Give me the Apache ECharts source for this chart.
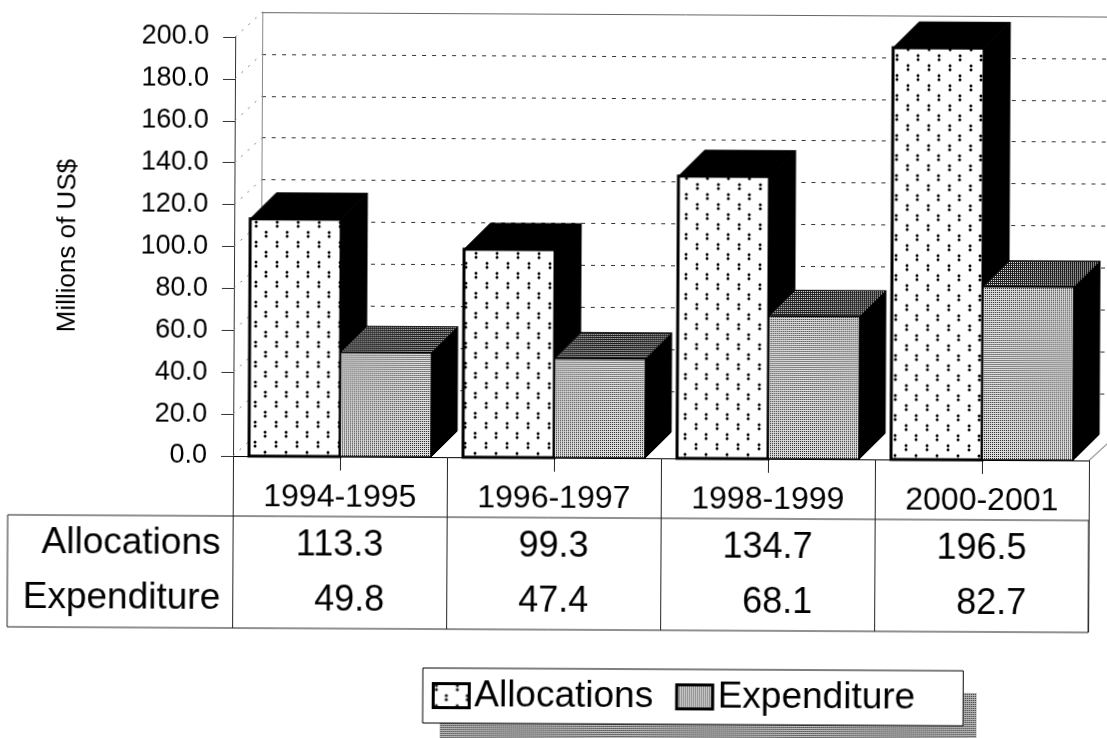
<!DOCTYPE html>
<html>
<head>
<meta charset="utf-8">
<title>Allocations and Expenditure</title>
<script src="https://cdn.jsdelivr.net/npm/echarts@6/dist/echarts.min.js"></script>
<style>
  html, body { margin: 0; padding: 0; background: #fff; overflow: hidden; }
  /* the source is a slightly crooked scan */
  #chart { width: 1107px; height: 738px; transform-origin: 233px 456px; transform: rotate(0.3deg); }
</style>
</head>
<body>
<div id="chart"></div>
<script>
const periods = ["1994-1995", "1996-1997", "1998-1999", "2000-2001"];
const allocations = [113.3, 99.3, 134.7, 196.5];
const expenditure = [49.8, 47.4, 68.1, 82.7];
const allocationLabels = ["113.3", "99.3", "134.7", "196.5"];
const expenditureLabels = ["  49.8", "47.4", "  68.1", "  82.7"];
const yTicks = [0, 20, 40, 60, 80, 100, 120, 140, 160, 180, 200];

const FONT = '"Liberation Sans", Arial, sans-serif';
const WALL_X = 27, WALL_Y = 25; // offset of the back wall
const DEPTH = 26; // depth of the boxes
const BAR_SHARE = 91 / 214;

function makeTile(w, h, draw) {
  const c = document.createElement("canvas");
  c.width = w;
  c.height = h;
  const ctx = c.getContext("2d");
  ctx.fillStyle = "#fff";
  ctx.fillRect(0, 0, w, h);
  draw(ctx);
  return { image: c, repeat: "repeat" };
}

// paired dots, staggered from column to column
const dots = makeTile(21, 20, function (ctx) {
  ctx.fillStyle = "#000";
  [[3, 2], [3, 6], [13, 12], [13, 16]].forEach(function (p) {
    ctx.beginPath();
    ctx.arc(p[0], p[1], 1.5, 0, Math.PI * 2);
    ctx.fill();
  });
});

// one odd pixel in every 2x2 cell, like the halftone of the scan
function stipple(base, odd) {
  return makeTile(2, 2, function (ctx) {
    ctx.fillStyle = base;
    ctx.fillRect(0, 0, 2, 2);
    ctx.fillStyle = odd;
    ctx.fillRect(0, 0, 1, 1);
  });
}
const grey = stipple("#dedede", "#1c1c1c");
const darkGrey = stipple("#1c1c1c", "#f0f0f0");
const shadowGrey = stipple("#bdbdbd", "#111");

// one 3D box per category
function boxRenderer(side, frontFill, topFill, frontLine) {
  return function (params, api) {
    const i = api.value(0);
    const top = api.coord([i, api.value(1)]);
    const base = api.coord([i, 0]);
    const w = api.size([1, 0])[0] * BAR_SHARE;
    const x0 = top[0] + (side === 0 ? -w : 0);
    const x1 = x0 + w;
    return {
      type: "group",
      children: [
        {
          type: "polygon",
          shape: { points: [[x1, top[1]], [x1 + DEPTH, top[1] - DEPTH], [x1 + DEPTH, base[1] - DEPTH], [x1, base[1]]] },
          style: { fill: "#000", stroke: "#000", lineWidth: 1 },
        },
        {
          type: "polygon",
          shape: { points: [[x0, top[1]], [x0 + DEPTH, top[1] - DEPTH], [x1 + DEPTH, top[1] - DEPTH], [x1, top[1]]] },
          style: { fill: topFill, stroke: "#000", lineWidth: 1 },
        },
        {
          type: "rect",
          shape: { x: x0, y: top[1], width: w, height: base[1] - top[1] },
          style: { fill: frontFill, stroke: "#000", lineWidth: frontLine },
        },
      ],
    };
  };
}

// faint diagonals joining the axis to the back wall, and the floor edge on the right
function wallRenderer(params, api) {
  const p = api.coord([0, api.value(0)]);
  const x = p[0] - api.size([1, 0])[0] / 2;
  return {
    type: "line",
    shape: { x1: x, y1: p[1], x2: x + WALL_X, y2: p[1] - WALL_Y },
    style: { stroke: "#777", lineWidth: 1, lineDash: [2, 7] },
  };
}
function floorRenderer(params, api) {
  const p = api.coord([api.value(0), 0]);
  const x = p[0] + api.size([1, 0])[0] / 2;
  return {
    type: "line",
    shape: { x1: x, y1: p[1], x2: x + WALL_X, y2: p[1] - WALL_Y },
    style: { stroke: "#555", lineWidth: 1 },
  };
}

const myChart = echarts.init(document.getElementById("chart"), null, { renderer: "canvas" });

const options = {
  animation: false,
  backgroundColor: "#fff",
  textStyle: { fontFamily: FONT, color: "#000" },
  grid: [
    { left: 233, top: 37, width: 856, height: 419 },
    { left: 260, top: 12, width: 860, height: 419 },
  ],
  legend: {
    data: ["Allocations", "Expenditure"],
    icon: "rect",
    left: 424,
    top: 667,
    padding: [9, 48, 9, 9],
    itemGap: 22,
    itemWidth: 36,
    itemHeight: 24,
    z: 10,
    backgroundColor: "#fff",
    borderColor: "#000",
    borderWidth: 1,
    textStyle: { fontSize: 37, fontFamily: FONT, color: "#000" },
    itemStyle: { borderColor: "#000", borderWidth: 3 },
  },
  xAxis: [
    {
      type: "category",
      gridIndex: 0,
      position: "bottom",
      data: periods,
      axisLine: { lineStyle: { color: "#000", width: 1 } },
      axisTick: { show: true, length: 172, lineStyle: { color: "#222", width: 1 } },
      axisLabel: { interval: 0, margin: 25, fontSize: 32, fontFamily: FONT, color: "#000" },
    },
    {
      type: "category",
      gridIndex: 0,
      position: "bottom",
      data: periods,
      axisLine: { show: false },
      axisTick: { show: true, alignWithLabel: true, length: 14, lineStyle: { color: "#222", width: 1 } },
      axisLabel: { show: false },
    },
    {
      type: "category",
      gridIndex: 0,
      position: "bottom",
      offset: 71,
      data: allocationLabels,
      axisLine: { show: false },
      axisTick: { show: false },
      axisLabel: { interval: 0, margin: 0, fontSize: 36, fontFamily: FONT, color: "#000" },
    },
    {
      type: "category",
      gridIndex: 0,
      position: "bottom",
      offset: 126,
      data: expenditureLabels,
      axisLine: { show: false },
      axisTick: { show: false },
      axisLabel: { interval: 0, margin: 0, fontSize: 36, fontFamily: FONT, color: "#000" },
    },
    {
      type: "category",
      gridIndex: 1,
      position: "top",
      data: periods,
      axisLine: { onZero: false, lineStyle: { color: "#666", width: 1 } },
      axisTick: { show: false },
      axisLabel: { show: false },
    },
  ],
  yAxis: [
    {
      type: "value",
      gridIndex: 0,
      min: 0,
      max: 200,
      interval: 20,
      name: "Millions of US$",
      nameLocation: "middle",
      nameGap: 153,
      nameTextStyle: { fontSize: 26, fontFamily: FONT, color: "#000" },
      axisLine: { show: true, lineStyle: { color: "#333", width: 1 } },
      axisTick: { show: true, length: 12, lineStyle: { color: "#333", width: 1 } },
      axisLabel: {
        margin: 26,
        fontSize: 27,
        fontFamily: FONT,
        color: "#000",
        formatter: function (v) { return v.toFixed(1); },
      },
      splitLine: { show: false },
    },
    {
      type: "value",
      gridIndex: 1,
      min: 0,
      max: 200,
      interval: 20,
      axisLine: { show: true, lineStyle: { color: "#888", width: 1 } },
      axisTick: { show: false },
      axisLabel: { show: false },
      splitLine: {
        show: true,
        showMinLine: false,
        showMaxLine: false,
        lineStyle: { color: "#333", width: 1, type: [4, 6] },
      },
    },
  ],
  graphic: [
    {
      type: "rect",
      z: 1,
      shape: { x: 8, y: 516, width: 1081, height: 112 },
      style: { fill: "none", stroke: "#222", lineWidth: 1 },
    },
    {
      type: "rect",
      z: 1,
      shape: { x: 441, y: 689, width: 537, height: 60 },
      style: { fill: shadowGrey },
    },
    {
      type: "text",
      z: 2,
      style: { text: "Allocations", x: 221, y: 544, align: "right", verticalAlign: "middle", font: "37px " + FONT, fill: "#000" },
    },
    {
      type: "text",
      z: 2,
      style: { text: "Expenditure", x: 221, y: 599, align: "right", verticalAlign: "middle", font: "37px " + FONT, fill: "#000" },
    },
  ],
  series: [
    {
      name: "wall",
      type: "custom",
      xAxisIndex: 0,
      yAxisIndex: 0,
      z: 1,
      silent: true,
      data: yTicks,
      encode: { x: -1, y: 0 },
      renderItem: wallRenderer,
    },
    {
      name: "floor",
      type: "custom",
      xAxisIndex: 0,
      yAxisIndex: 0,
      z: 1,
      silent: true,
      data: [[periods.length - 1, 0]],
      renderItem: floorRenderer,
    },
    {
      name: "Allocations",
      type: "custom",
      xAxisIndex: 0,
      yAxisIndex: 0,
      z: 3,
      itemStyle: { color: dots },
      data: allocations.map(function (v, i) { return [i, v]; }),
      renderItem: boxRenderer(0, dots, "#000", 3),
    },
    {
      name: "Expenditure",
      type: "custom",
      xAxisIndex: 0,
      yAxisIndex: 0,
      z: 4,
      itemStyle: { color: grey },
      data: expenditure.map(function (v, i) { return [i, v]; }),
      renderItem: boxRenderer(1, grey, darkGrey, 1.5),
    },
  ],
};

myChart.setOption(options);
window.addEventListener("resize", function () {
  myChart.resize();
});
</script>
</body>
</html>
